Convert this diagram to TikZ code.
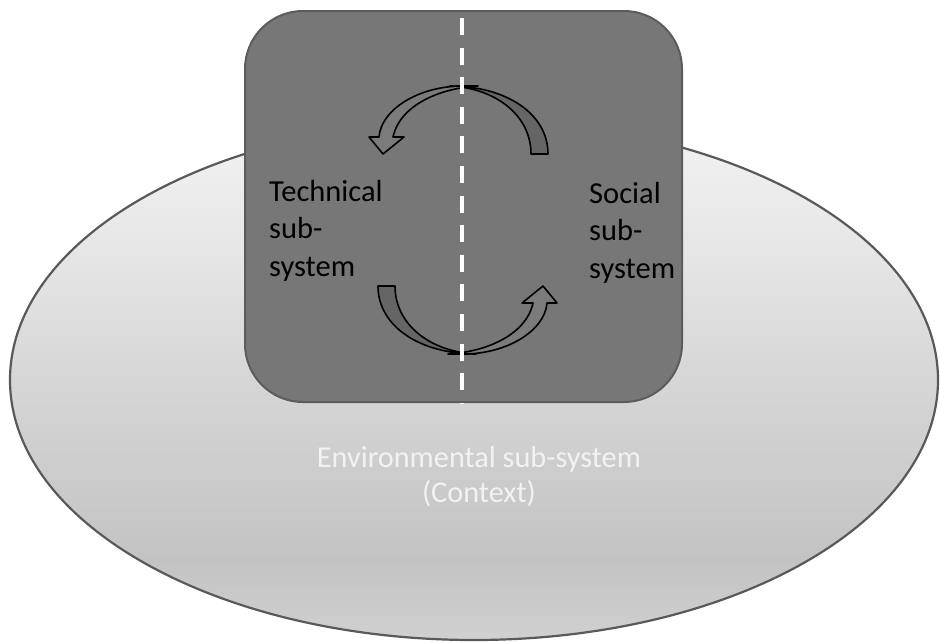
\documentclass[tikz,border=0pt]{standalone}
\usepackage{fontspec}
\setmainfont{Carlito}
\usetikzlibrary{shapes.geometric}

\definecolor{envTop}{HTML}{F3F3F3}
\definecolor{envUpper}{HTML}{E6E6E6}
\definecolor{envMid}{HTML}{D6D6D6}
\definecolor{envLow}{HTML}{C3C3C3}
\definecolor{envBottom}{HTML}{D0D0D0}
\definecolor{envLine}{HTML}{595959}
\definecolor{boxFill}{HTML}{777777}
\definecolor{boxLine}{HTML}{5C5C5C}
\definecolor{ribbonFront}{HTML}{7B7B7B}
\definecolor{ribbonBack}{HTML}{656565}
\definecolor{envText}{HTML}{F2F2F2}

% vertical gradient of the surrounding ellipse (25bp = bottom, 75bp = top)
\pgfdeclareverticalshading{envshade}{100bp}{%
  color(0bp)=(envBottom); color(25bp)=(envBottom); color(32.7bp)=(envLow);
  color(50bp)=(envMid); color(62.5bp)=(envUpper); color(75bp)=(envTop);
  color(100bp)=(envTop)}

\begin{document}
\begin{tikzpicture}[x=1pt, y=-1pt,
  envellipse/.style={ellipse, draw=envLine, line width=2.2pt, shading=envshade,
    minimum width=928pt, minimum height=520pt, inner sep=0pt},
  techbox/.style={rectangle, draw=boxLine, line width=2pt, fill=boxFill,
    rounded corners=58pt, minimum width=437pt, minimum height=391pt, inner sep=0pt},
  subtext/.style={font=\fontsize{30.5}{37.5}\selectfont, align=left,
    inner sep=0pt, text=black},
  envtextstyle/.style={font=\fontsize{30.3}{35}\selectfont, align=center,
    inner sep=0pt, text=envText},
  divider/.style={white, line width=4pt, dash pattern=on 17pt off 12.6pt},
  ribbon/.style={draw=black, line width=1.6pt, line join=round},
  pics/cyclearrow/.style={code={
    % back face of the ribbon, near its tail
    \path[ribbon, fill=ribbonBack]
      (85,-66) .. controls (85,-107) and (42,-134) .. (-13,-134)
      .. controls (32,-132) and (68,-105) .. (68,-66) -- cycle;
    % front face of the ribbon with its arrow head
    \path[ribbon, fill=ribbonFront]
      (-84,-83) .. controls (-82,-110) and (-45,-134) .. (0,-134)
      -- (15,-134) .. controls (-23,-132) and (-63,-115) .. (-70,-83)
      -- (-59,-83) -- (-80,-66) -- (-94,-83) -- cycle;
  }}
]
\useasboundingbox (0,0) rectangle (940,641);

\node[envellipse] (env) at (474,380) {};
\node[techbox] (box) at (463.5,206.5) {};

\pic at (463,220) {cyclearrow};
\pic[rotate=180] at (463,220) {cyclearrow};

\coordinate (dtop) at (461.5,18);
\coordinate (dbot) at (461.5,404);
\draw[divider] (dtop) -- (dbot);

% multi-line nodes: the base anchor sits on the last line
\node[subtext, anchor=base west] (technical) at (269,276) {Technical\\sub-\\system};
\node[subtext, anchor=base west] (social) at (589,278) {Social\\sub-\\system};
\node[envtextstyle, anchor=base] (envlabel) at (479,502.7) {Environmental sub-system\\(Context)};
\end{tikzpicture}
\end{document}
